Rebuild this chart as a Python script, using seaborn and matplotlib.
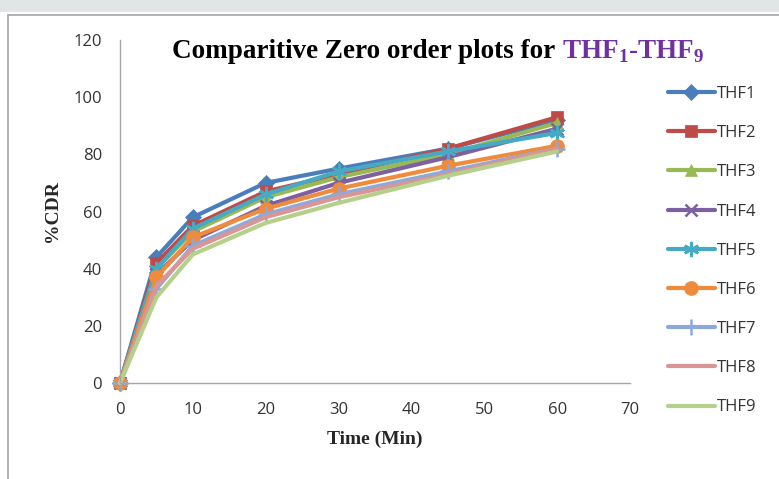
import matplotlib
matplotlib.use("Agg")
import matplotlib.pyplot as plt
import seaborn as sns
from matplotlib.lines import Line2D
from matplotlib.patches import Rectangle

time_min = [0, 5, 10, 20, 30, 45, 60]
series_names = ["THF1", "THF2", "THF3", "THF4", "THF5", "THF6", "THF7", "THF8", "THF9"]
thf1 = [0, 44, 58, 70, 75, 82, 92]
thf2 = [0, 42, 55, 67, 73, 82, 93]
thf3 = [0, 40, 53, 65, 72, 80, 91]
thf4 = [0, 38, 50, 62, 70, 79, 89]
thf5 = [0, 40, 54, 66, 74, 81, 87.5]
thf6 = [0, 37, 51, 61, 68, 76, 83]
thf7 = [0, 33, 48, 59, 66, 74, 82]
thf8 = [0, 34, 47, 58, 65, 73, 82]
thf9 = [0, 30, 45, 56, 63, 72.5, 81]
all_values = [thf1, thf2, thf3, thf4, thf5, thf6, thf7, thf8, thf9]
x_ticks = [0, 10, 20, 30, 40, 50, 60, 70]
y_ticks = [0, 20, 40, 60, 80, 100, 120]

colors = ["#4A7EBB", "#BE4B48", "#98B954", "#7D60A0", "#46AAC5",
          "#F08A3C", "#8DA9DB", "#D99695", "#B4D08A"]
markers = ["D", "s", "^", "x", (6, 2, 0), "o", "+", None, None]
msizes = [8, 8, 9, 9, 11, 10, 11, 0, 0]

sns.set_style("white")
fig = plt.figure(figsize=(7.79, 4.79), dpi=100)
W, H = 779, 479

# background frame
fig.patches.append(Rectangle((0, 1 - 12 / H), 1, 12 / H, transform=fig.transFigure,
                             facecolor="#E1E5E6", edgecolor="none", zorder=0))
fig.lines.append(Line2D([8 / W, 1], [1 - 15 / H, 1 - 15 / H], transform=fig.transFigure,
                        color="#A6A6A6", lw=1.2))
fig.lines.append(Line2D([8 / W, 8 / W], [0, 1 - 15 / H], transform=fig.transFigure,
                        color="#A6A6A6", lw=1.2))

ax = fig.add_axes([120 / W, 1 - 383 / H, (630 - 120) / W, (383 - 40) / H])

for name, vals, c, m, ms in zip(series_names, all_values, colors, markers, msizes):
    kw = {}
    if m is not None:
        kw = dict(marker=m, markersize=ms,
                  markeredgewidth=1.8 if m in ("x", "+") or isinstance(m, tuple) else 0.5,
                  markeredgecolor=c, markerfacecolor=c)
    sns.lineplot(x=time_min, y=vals, ax=ax, color=c, lw=3.0, label=name,
                 clip_on=False, **kw)

ax.set_xlim(0, 70)
ax.set_ylim(0, 120)
ax.set_xticks(x_ticks)
ax.set_yticks(y_ticks)
for s in ["top", "right"]:
    ax.spines[s].set_visible(False)
for s in ["left", "bottom"]:
    ax.spines[s].set_color("#A6A6A6")
    ax.spines[s].set_linewidth(1.0)
ax.tick_params(axis="both", direction="out", length=5, color="#A6A6A6",
               labelsize=12, labelcolor="#333333")
ax.tick_params(axis="x", pad=9)
ax.tick_params(axis="y", pad=8)
for lab in ax.get_xticklabels() + ax.get_yticklabels():
    lab.set_fontfamily("Open Sans")

ax.set_xlabel("Time (Min)", fontfamily="Liberation Serif", fontweight="bold",
              fontsize=14, labelpad=9)
ax.set_ylabel("%CDR", fontfamily="Liberation Serif", fontweight="bold",
              fontsize=14, labelpad=9)

leg = ax.legend(loc="upper left", bbox_to_anchor=(668 / W, 1 - 86 / H),
                bbox_transform=fig.transFigure, frameon=False,
                prop={"family": "Open Sans", "size": 12},
                handlelength=2.8, handletextpad=0.15, labelspacing=1.39,
                borderaxespad=0, borderpad=0)
for t in leg.get_texts():
    t.set_color("#333333")

# title in two colours
t1 = fig.text(172 / W, 1 - 52 / H, "Comparitive Zero order plots for ",
              fontfamily="Liberation Serif", fontweight="bold", fontsize=19.5,
              color="black", ha="left", va="center")
fig.canvas.draw()
bb = t1.get_window_extent()
plt.rcParams["mathtext.fontset"] = "custom"
plt.rcParams["mathtext.rm"] = "Liberation Serif:bold"
plt.rcParams["mathtext.bf"] = "Liberation Serif:bold"
fig.text(bb.x1 / W, 1 - 52 / H, r"THF$_\mathbf{1}$-THF$_\mathbf{9}$",
         fontfamily="Liberation Serif", fontweight="bold", fontsize=19.5,
         color="#7030A0", ha="left", va="center")

fig.savefig("out.png", dpi=100)
